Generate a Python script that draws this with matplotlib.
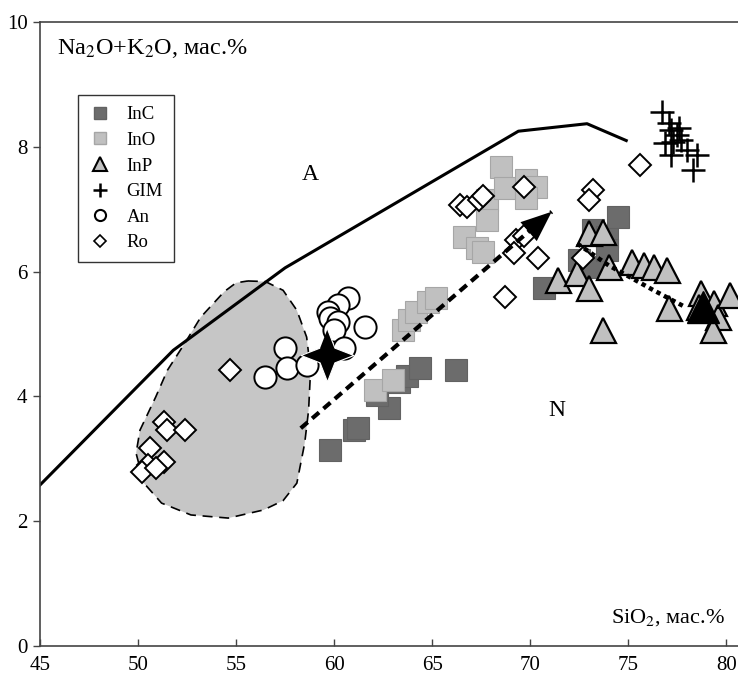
import numpy as np
import matplotlib

matplotlib.use("Agg")
import matplotlib.pyplot as plt
from matplotlib.lines import Line2D
from matplotlib.patches import Polygon

plt.rcParams["font.family"] = ["Liberation Serif", "DejaVu Serif"]
plt.rcParams["mathtext.fontset"] = "stix"

# alkaline / subalkaline divide
border_x = [45.0, 51.8, 57.5, 69.4, 72.9, 74.9]
border_y = [2.58, 4.74, 6.06, 8.25, 8.37, 8.10]

# grey field outline
field_x = [55.6, 56.5, 57.4, 58.1, 58.6, 58.8, 58.7, 58.5, 58.1, 57.4, 56.4, 54.6,
           52.7, 51.2, 50.3, 49.9, 50.1, 50.9, 51.5, 52.4, 53.2, 54.4, 55.0]
field_y = [5.85, 5.84, 5.70, 5.38, 4.95, 4.42, 3.78, 3.25, 2.61, 2.33, 2.18, 2.05,
           2.10, 2.29, 2.61, 3.09, 3.46, 3.99, 4.42, 4.86, 5.27, 5.68, 5.82]

inc_x = [59.8, 61.0, 61.2, 62.8, 62.2, 63.3, 63.7, 64.4, 66.2,
         70.7, 72.5, 73.2, 73.2, 73.9, 73.9, 74.5]
inc_y = [3.14, 3.46, 3.49, 3.81, 4.02, 4.23, 4.33, 4.46, 4.42,
         5.74, 6.19, 6.07, 6.67, 6.55, 6.35, 6.88]

ino_x = [62.1, 63.0, 63.5, 63.8, 64.2, 64.8, 65.2, 66.6, 67.3, 67.6,
         67.8, 67.8, 68.5, 68.7, 69.8, 70.3, 69.8]
ino_y = [4.10, 4.26, 5.06, 5.22, 5.35, 5.51, 5.58, 6.55, 6.38, 6.31,
         7.15, 6.83, 7.68, 7.34, 7.47, 7.36, 7.18]

inp_x = [71.4, 72.4, 73.0, 73.0, 73.7, 74.0, 73.7, 75.2, 75.8, 76.3,
         77.0, 77.1, 78.7, 78.6, 79.4, 79.6, 80.2, 79.3]
inp_y = [5.87, 5.98, 5.74, 6.62, 6.63, 6.07, 5.06, 6.15, 6.11, 6.07,
         6.03, 5.42, 5.66, 5.43, 5.50, 5.27, 5.63, 5.06]

gim_x = [76.7, 77.1, 77.2, 77.5, 77.3, 77.7, 78.0, 77.2, 78.5, 78.3, 76.9, 77.6]
gim_y = [8.56, 8.38, 8.27, 8.19, 8.08, 8.11, 7.95, 7.87, 7.87, 7.63, 8.06, 8.30]

an_x = [60.7, 60.2, 59.7, 59.8, 60.2, 60.0, 61.6, 60.5, 57.5, 57.6, 58.6, 56.5]
an_y = [5.58, 5.46, 5.35, 5.26, 5.19, 5.06, 5.11, 4.78, 4.78, 4.46, 4.50, 4.31]

ro_x = [54.7, 51.3, 51.5, 52.4, 50.6, 50.5, 51.3, 50.2, 50.9,
        66.4, 66.8, 67.4, 67.6, 69.7, 69.3, 69.7, 69.2, 70.4, 68.7,
        75.6, 73.2, 73.0, 72.7]
ro_y = [4.42, 3.59, 3.46, 3.46, 3.17, 2.90, 2.95, 2.79, 2.85,
        7.07, 7.04, 7.15, 7.21, 7.36, 6.51, 6.57, 6.30, 6.22, 5.59,
        7.71, 7.31, 7.15, 6.22]

# mean compositions and trends
star = (59.65, 4.66)
black_tri = (78.8, 5.43)
trend1_x = [58.3, 71.1]
trend1_y = [3.49, 6.96]
trend2_x = [72.4, 74.0, 76.3, 77.8]
trend2_y = [6.45, 6.10, 5.70, 5.45]

fig = plt.figure(figsize=(7.38, 6.77), dpi=100)
ax = fig.add_axes([40 / 738, 31 / 677, 698 / 738, 624 / 677])
ax.set_xlim(45, 80.6)
ax.set_ylim(0, 10)

ax.add_patch(Polygon(np.column_stack([field_x, field_y]), closed=True,
                     facecolor="#c6c6c6", edgecolor="black", lw=1.2,
                     linestyle=(0, (6, 4)), zorder=1))
ax.plot(border_x, border_y, color="black", lw=2.2, zorder=2)

ax.plot(inc_x, inc_y, "s", ms=16, mfc="#6c6c6c", mec="#626262", mew=0.8, zorder=3)
ax.plot(ino_x, ino_y, "s", ms=16, mfc="#c0c0c0", mec="#a6a6a6", mew=0.8, zorder=3)
ax.plot(inp_x, inp_y, "^", ms=18, mfc="#c0c0c0", mec="black", mew=1.6, zorder=4)
ax.plot(ro_x, ro_y, "D", ms=11.5, mfc="white", mec="black", mew=1.4, zorder=5)
ax.plot(an_x, an_y, "o", ms=16, mfc="white", mec="black", mew=1.4, zorder=5)
ax.plot(gim_x, gim_y, "+", ms=17, mec="black", mew=1.8, zorder=5)

# trend arrows
line, = ax.plot(trend1_x, trend1_y, color="black", lw=3, zorder=6,
                dash_capstyle="butt")
line.set_dashes((2.2, 1.4))
slope = (trend1_y[1] - trend1_y[0]) / (trend1_x[1] - trend1_x[0])
ax.annotate("", xy=(trend1_x[1], trend1_y[1]),
            xytext=(trend1_x[1] - 0.4, trend1_y[1] - 0.4 * slope),
            arrowprops=dict(arrowstyle="-|>,head_length=1.1,head_width=0.45",
                            color="black", lw=0, mutation_scale=20,
                            shrinkA=0, shrinkB=0), zorder=7)
dots, = ax.plot(trend2_x, trend2_y, color="black", lw=3.2, zorder=6,
                dash_capstyle="butt")
dots.set_dashes((1, 0.9))

star_marker = [(0, 1), (0.28, 0.28), (1, 0), (0.28, -0.28),
               (0, -1), (-0.28, -0.28), (-1, 0), (-0.28, 0.28)]
ax.plot(*star, marker=star_marker, ms=38, color="black", mec="white",
        mew=0.8, zorder=8)
ax.plot(*black_tri, "^", ms=23, color="black", zorder=8)

ax.text(58.8, 7.55, "A", fontsize=17, ha="center", va="center")
ax.text(71.35, 3.78, "N", fontsize=17, ha="center", va="center")
ax.text(0.024, 0.958, r"Na$_2$O+K$_2$O, мас.%", transform=ax.transAxes,
        fontsize=17.5, ha="left", va="center")
ax.text(0.981, 0.046, r"SiO$_2$, мас.%", transform=ax.transAxes,
        fontsize=16, ha="right", va="center")

handles = [
    Line2D([], [], ls="none", marker="s", ms=8, mfc="#6c6c6c", mec="#626262"),
    Line2D([], [], ls="none", marker="s", ms=8, mfc="#c0c0c0", mec="#a6a6a6"),
    Line2D([], [], ls="none", marker="^", ms=10, mfc="#c0c0c0", mec="black", mew=1.5),
    Line2D([], [], ls="none", marker="+", ms=10, mec="black", mew=1.8),
    Line2D([], [], ls="none", marker="o", ms=8, mfc="white", mec="black", mew=1.5),
    Line2D([], [], ls="none", marker="D", ms=6, mfc="white", mec="black", mew=1.2),
]
leg = ax.legend(handles, ["InC", "InO", "InP", "GIM", "An", "Ro"],
                loc="upper left", bbox_to_anchor=(0.054, 0.883), borderaxespad=0,
                fontsize=13.5, fancybox=False, framealpha=1, edgecolor="#333333",
                handlelength=1.2, handletextpad=0.8, labelspacing=0.45,
                borderpad=0.6)
leg.get_frame().set_linewidth(1.0)

ax.set_xticks([45, 50, 55, 60, 65, 70, 75, 80])
ax.set_yticks([0, 2, 4, 6, 8, 10])
ax.tick_params(axis="x", direction="in", length=5, width=1, labelsize=15, pad=7,
               color="#444444")
ax.tick_params(axis="y", direction="out", length=5, width=1, labelsize=15, pad=4,
               color="#444444")
ax.spines["right"].set_visible(False)
for s in ("left", "bottom", "top"):
    ax.spines[s].set_color("#444444")
    ax.spines[s].set_linewidth(1.2)

fig.savefig("out.png", dpi=100)
